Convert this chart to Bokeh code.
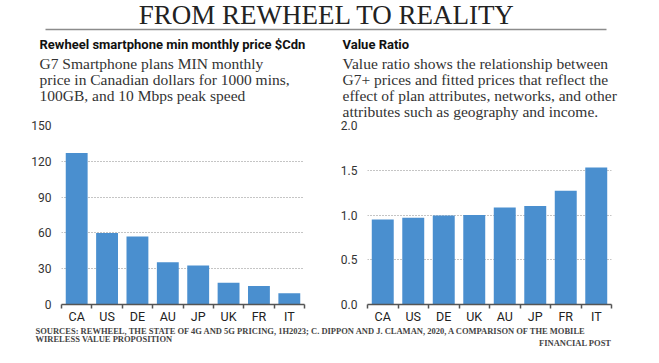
from bokeh.plotting import figure
from bokeh.models import Range1d, FixedTicker, Label, NumeralTickFormatter
from bokeh.layouts import column, row
from bokeh.embed import file_html
from bokeh.resources import INLINE

# ---- data ----
price_countries = ["CA", "US", "DE", "AU", "JP", "UK", "FR", "IT"]
price_values = [127, 60, 57, 35.5, 32.7, 18.2, 15.4, 9.5]
price_ticks = [0, 30, 60, 90, 120, 150]

ratio_countries = ["CA", "US", "DE", "UK", "AU", "JP", "FR", "IT"]
ratio_values = [0.95, 0.97, 0.995, 1.0, 1.085, 1.10, 1.27, 1.53]
ratio_ticks = [0.0, 0.5, 1.0, 1.5, 2.0]

title_text = "FROM REWHEEL TO REALITY"
left_head = "Rewheel smartphone min monthly price $Cdn"
left_desc = ["G7 Smartphone plans MIN monthly",
             "price in Canadian dollars for 1000 mins,",
             "100GB, and 10 Mbps peak speed"]
right_head = "Value Ratio"
right_desc = ["Value ratio shows the relationship between",
              "G7+ prices and fitted prices that reflect the",
              "effect of plan attributes, networks, and other",
              "attributes such as geography and income."]
source_lines = ["SOURCES: REWHEEL, THE STATE OF 4G AND 5G PRICING, 1H2023; C. DIPPON AND J. CLAMAN, 2020, A COMPARISON OF THE MOBILE",
                "WIRELESS VALUE PROPOSITION"]
credit = "FINANCIAL POST"

BAR = "#4a8fcf"
SERIF = "Liberation Serif"
SANS = "Roboto"

W = 659

# ---- header ----
HH = 120
h = figure(width=W, height=HH, x_range=Range1d(0, W), y_range=Range1d(HH, 0),
           x_axis_type=None, y_axis_type=None, output_backend="svg",
           toolbar_location=None, min_border=0)
h.grid.visible = False
h.outline_line_color = None

h.add_layout(Label(x=326.5, y=14, text=title_text, text_font=SERIF, text_font_size="27px",
                   text_align="center", text_baseline="middle", text_color="#222222"))
h.segment(x0=[45], y0=[29], x1=[606], y1=[29], line_color="#8c8c8c", line_width=1.6)

h.add_layout(Label(x=39, y=44, text=left_head, text_font=SANS, text_font_style="bold",
                   text_font_size="13px", text_baseline="middle", text_color="#111111"))
h.add_layout(Label(x=342, y=44, text=right_head, text_font=SANS, text_font_style="bold",
                   text_font_size="13px", text_baseline="middle", text_color="#111111"))
for i, t in enumerate(left_desc):
    h.add_layout(Label(x=39, y=63 + 16 * i, text=t, text_font=SERIF, text_font_size="15.5px",
                       text_baseline="middle", text_color="#333333"))
for i, t in enumerate(right_desc):
    h.add_layout(Label(x=342, y=63 + 16 * i, text=t, text_font=SERIF, text_font_size="15.5px",
                       text_baseline="middle", text_color="#333333"))


# ---- bar charts ----
def bar_chart(cats, vals, ticks, ymax, fmt, width, mbl, mbr):
    n = len(cats)
    pos = [i + 0.5 for i in range(n)]
    p = figure(width=width, height=206, x_range=Range1d(0, n), y_range=Range1d(0, ymax),
               output_backend="svg", toolbar_location=None,
               min_border_left=mbl, min_border_right=mbr, min_border_top=5, min_border_bottom=22)
    p.outline_line_color = None
    p.vbar(x=pos, top=vals, width=0.72, color=BAR, line_color=None)

    p.xgrid.visible = False
    p.ygrid.ticker = FixedTicker(ticks=ticks)
    p.ygrid.grid_line_color = "#8a8a8a"
    p.ygrid.grid_line_dash = "1 2"
    p.ygrid.grid_line_width = 1

    xa = p.xaxis[0]
    xa.ticker = FixedTicker(ticks=pos, minor_ticks=list(range(n + 1)))
    xa.major_label_overrides = {pos[i]: cats[i] for i in range(n)}
    xa.major_tick_out = 0
    xa.major_tick_in = 0
    xa.minor_tick_out = 4
    xa.minor_tick_in = 0
    xa.minor_tick_line_color = "#555555"
    xa.minor_tick_line_width = 1.5
    xa.axis_line_color = "#555555"
    xa.axis_line_width = 1.5
    xa.major_label_standoff = 0
    xa.major_label_text_font = SANS
    xa.major_label_text_font_size = "12.5px"
    xa.major_label_text_color = "#222222"

    ya = p.yaxis[0]
    ya.ticker = FixedTicker(ticks=ticks)
    ya.formatter = NumeralTickFormatter(format=fmt)
    ya.axis_line_color = None
    ya.major_tick_line_color = None
    ya.minor_tick_line_color = None
    ya.major_label_standoff = 4
    ya.major_label_text_font = SANS
    ya.major_label_text_font_size = "12px"
    ya.major_label_text_color = "#333333"
    return p


left = bar_chart(price_countries, price_values, price_ticks, 150, "0", 330, 61, 26)
right = bar_chart(ratio_countries, ratio_values, ratio_ticks, 2.0, "0.0", 329, 37, 48)

# ---- footer ----
FH = 30
f = figure(width=W, height=FH, x_range=Range1d(0, W), y_range=Range1d(FH, 0),
           x_axis_type=None, y_axis_type=None, output_backend="svg",
           toolbar_location=None, min_border=0)
f.grid.visible = False
f.outline_line_color = None
for i, t in enumerate(source_lines):
    f.add_layout(Label(x=35, y=4 + 8.5 * i, text=t, text_font=SERIF, text_font_style="bold",
                       text_font_size="8.5px", text_baseline="middle", text_color="#444444"))
f.add_layout(Label(x=611, y=16, text=credit, text_font=SERIF, text_font_style="bold",
                   text_font_size="8.5px", text_align="right", text_baseline="middle",
                   text_color="#444444"))

layout = column(h, row(left, right), f)
open("out.html", "w").write(file_html(layout, INLINE))
